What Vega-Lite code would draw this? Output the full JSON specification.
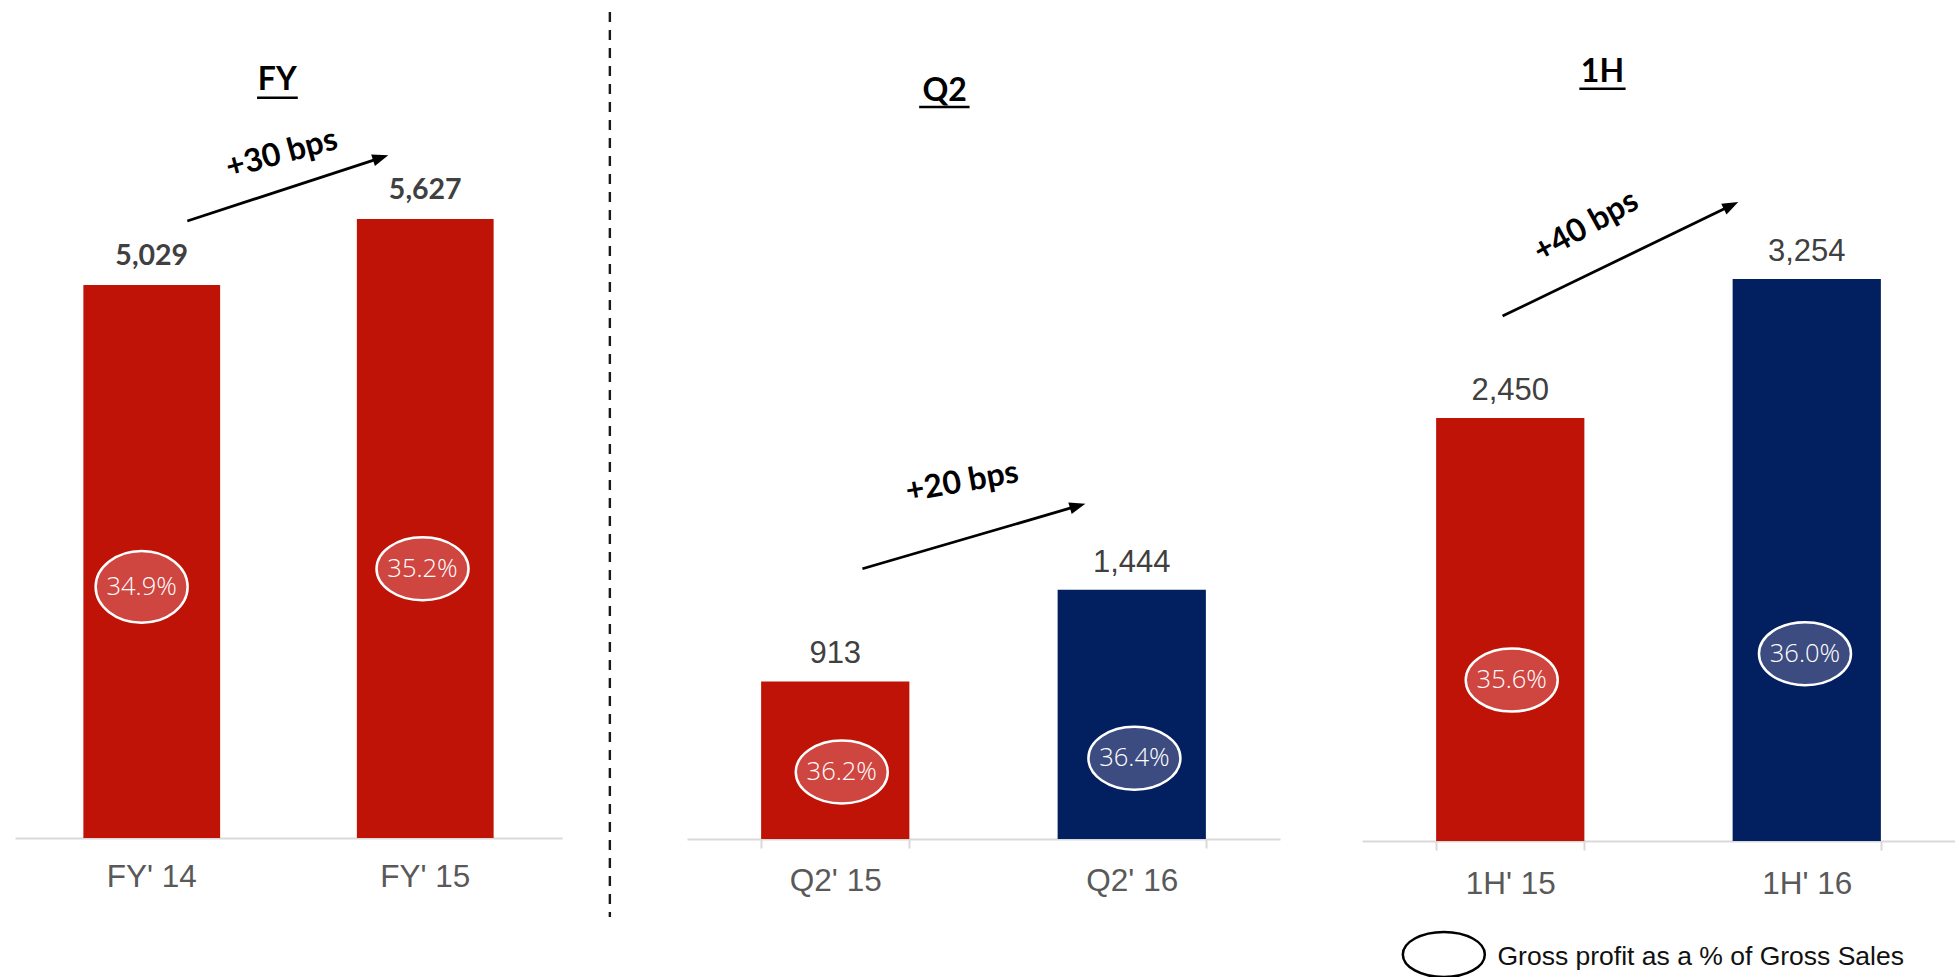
{
  "$schema": "https://vega.github.io/schema/vega-lite/v6.json",
  "background": "#FFFFFF",
  "padding": {"left": 15, "top": 10, "right": 0, "bottom": 0},
  "bounds": "flush",
  "spacing": 125,
  "config": {"view": {"stroke": null}, "font": "Liberation Sans"},
  "resolve": {"scale": {"x": "independent", "y": "independent"}},
  "datasets": {
    "fy": [
      {"period": "FY' 14", "gp": 5029, "margin": "34.9%", "fiscal": "2014", "labelX": 0.463, "labelY": 2284},
      {"period": "FY' 15", "gp": 5627, "margin": "35.2%", "fiscal": "2015", "labelX": 1.49, "labelY": 2448}
    ],
    "q2": [
      {"period": "Q2' 15", "gp": 913, "margin": "36.2%", "fiscal": "2015", "labelX": 0.522, "labelY": 388},
      {"period": "Q2' 16", "gp": 1444, "margin": "36.4%", "fiscal": "2016", "labelX": 1.509, "labelY": 468}
    ],
    "h1": [
      {"period": "1H' 15", "gp": 2450, "margin": "35.6%", "fiscal": "2015", "labelX": 0.505, "labelY": 932},
      {"period": "1H' 16", "gp": 3254, "margin": "36.0%", "fiscal": "2016", "labelX": 1.494, "labelY": 1085}
    ],
    "notes": [
      {"panel": "FY", "kind": "title", "label": "FY", "x": 0.959, "y": 6798},
      {"panel": "FY", "kind": "underline", "x": 0.885, "x2": 1.034, "y": 6731},
      {"panel": "FY", "kind": "arrow", "x": 0.63, "y": 5610, "x2": 1.337, "y2": 6184},
      {"panel": "FY", "kind": "change", "label": "+30 bps", "x": 0.975, "y": 6223},
      {"panel": "FY", "kind": "divider", "x": 2.175, "y": 7510, "y2": -718},
      {"panel": "Q2", "kind": "title", "label": "Q2", "x": 0.869, "y": 4275},
      {"panel": "Q2", "kind": "underline", "x": 0.783, "x2": 0.953, "y": 4242},
      {"panel": "Q2", "kind": "arrow", "x": 0.5916, "y": 1566, "x2": 1.3177, "y2": 1930},
      {"panel": "Q2", "kind": "change", "label": "+20 bps", "x": 0.928, "y": 2069},
      {"panel": "1H", "kind": "title", "label": "1H", "x": 0.811, "y": 4395},
      {"panel": "1H", "kind": "underline", "x": 0.733, "x2": 0.889, "y": 4357},
      {"panel": "1H", "kind": "arrow", "x": 0.474, "y": 3040, "x2": 1.2448, "y2": 3680},
      {"panel": "1H", "kind": "change", "label": "+40 bps", "x": 0.755, "y": 3561},
      {"panel": "1H", "kind": "legendmark", "x": 0.276, "y": -657},
      {"panel": "1H", "kind": "legendtext", "label": "Gross profit as a % of Gross Sales", "x": 0.457, "y": -720}
    ]
  },
  "hconcat": [
    {
      "width": 547,
      "height": 826,
      "resolve": {"scale": {"x": "independent"}},
      "layer": [
        {
          "data": {"name": "fy"},
          "layer": [
            {
              "mark": {"type": "bar"},
              "encoding": {
                "x": {"field": "period", "type": "nominal", "sort": null, "scale": {"paddingInner": 0.5, "paddingOuter": 0.25},
                  "axis": {"title": null, "labelAngle": 0, "labelFont": "Liberation Sans", "labelFontSize": 31.5, "labelColor": "#595959", "labelPadding": 23, "ticks": false, "domainColor": "#D9D9D9", "domainWidth": 2}},
                "y": {"field": "gp", "type": "quantitative", "scale": {"domain": [0, 7510], "nice": false}, "axis": null},
                "color": {"field": "fiscal", "type": "nominal", "scale": {"domain": ["2014", "2015", "2016"], "range": ["#BE1306", "#BE1306", "#022060"]}, "legend": null}
              }
            },
            {
              "mark": {"type": "text", "baseline": "alphabetic", "align": "center", "dy": -20, "font": "Lato", "fontWeight": "bold", "fontSize": 28.5, "color": "#404040"},
              "encoding": {
                "x": {"field": "period", "type": "nominal", "sort": null},
                "y": {"field": "gp", "type": "quantitative"},
                "text": {"field": "gp", "type": "quantitative", "format": ","}
              }
            }
          ]
        },
        {
          "layer": [
            {
              "data": {"name": "fy"},
              "mark": {"type": "point", "filled": true, "opacity": 1, "stroke": "#FFFFFF", "strokeWidth": 2.5, "size": 8464},
              "encoding": {
                "x": {"field": "labelX", "type": "quantitative", "scale": {"domain": [0, 2], "nice": false, "zero": false}, "axis": null},
                "y": {"field": "labelY", "type": "quantitative", "scale": {"domain": [0, 7510], "nice": false}, "axis": null},
                "fill": {"field": "fiscal", "type": "nominal", "scale": {"domain": ["2014", "2015", "2016"], "range": ["#CF4540", "#CF4540", "#3D4C80"]}, "legend": null},
                "shape": {"condition": {"test": "datum.period === \"FY' 14\"", "value": "M-1,0C-1,-0.431,-0.552,-0.78,0,-0.78C0.552,-0.78,1,-0.431,1,0C1,0.431,0.552,0.78,0,0.78C-0.552,0.78,-1,0.431,-1,0Z"}, "value": "M-1,0C-1,-0.378,-0.552,-0.685,0,-0.685C0.552,-0.685,1,-0.378,1,0C1,0.378,0.552,0.685,0,0.685C-0.552,0.685,-1,0.378,-1,0Z"}
              }
            },
            {
              "data": {"name": "fy"},
              "mark": {"type": "text", "font": "Open Sans", "fontWeight": 300, "fontSize": 25.5, "color": "#FFFFFF", "baseline": "middle", "align": "center"},
              "encoding": {
                "x": {"field": "labelX", "type": "quantitative"},
                "y": {"field": "labelY", "type": "quantitative"},
                "text": {"field": "margin"}
              }
            },
            {
              "data": {"name": "notes"},
              "transform": [{"filter": "datum.panel === 'FY' && datum.kind === 'title'"}],
              "mark": {"type": "text", "font": "Lato", "fontWeight": "bold", "fontSize": 32, "color": "#000000", "baseline": "alphabetic", "align": "center"},
              "encoding": {"x": {"field": "x", "type": "quantitative"}, "y": {"field": "y", "type": "quantitative"}, "text": {"field": "label"}}
            },
            {
              "data": {"name": "notes"},
              "transform": [{"filter": "datum.panel === 'FY' && datum.kind === 'underline'"}],
              "mark": {"type": "rule", "color": "#000000", "strokeWidth": 2.5},
              "encoding": {"x": {"field": "x", "type": "quantitative"}, "x2": {"field": "x2"}, "y": {"field": "y", "type": "quantitative"}}
            },
            {
              "data": {"name": "notes"},
              "transform": [{"filter": "datum.panel === 'FY' && datum.kind === 'arrow'"}],
              "mark": {"type": "rule", "color": "#000000", "strokeWidth": 2.8},
              "encoding": {"x": {"field": "x", "type": "quantitative"}, "x2": {"field": "x2"}, "y": {"field": "y", "type": "quantitative"}, "y2": {"field": "y2"}}
            },
            {
              "data": {"name": "notes"},
              "transform": [{"filter": "datum.panel === 'FY' && datum.kind === 'arrow'"}],
              "mark": {"type": "point", "filled": true, "opacity": 1, "color": "#000000", "size": 256, "angle": 342, "shape": "M1,0L-1,-0.75L-1,0.75Z"},
              "encoding": {"x": {"field": "x2", "type": "quantitative"}, "y": {"field": "y2", "type": "quantitative"}}
            },
            {
              "data": {"name": "notes"},
              "transform": [{"filter": "datum.panel === 'FY' && datum.kind === 'change'"}],
              "mark": {"type": "text", "font": "Lato", "fontWeight": "bold", "fontSize": 32, "color": "#000000", "baseline": "middle", "align": "center", "angle": 345},
              "encoding": {"x": {"field": "x", "type": "quantitative"}, "y": {"field": "y", "type": "quantitative"}, "text": {"field": "label"}}
            },
            {
              "data": {"name": "notes"},
              "transform": [{"filter": "datum.panel === 'FY' && datum.kind === 'divider'"}],
              "mark": {"type": "rule", "color": "#1A1A1A", "strokeWidth": 2.4, "strokeDash": [10, 8]},
              "encoding": {"x": {"field": "x", "type": "quantitative"}, "y": {"field": "y", "type": "quantitative"}, "y2": {"field": "y2"}}
            }
          ]
        }
      ]
    },
    {
      "bounds": "flush",
      "spacing": 82,
      "resolve": {"scale": {"x": "independent", "y": "independent"}},
      "hconcat": [
        {
          "width": 593,
          "height": 827,
          "resolve": {"scale": {"x": "independent"}},
          "layer": [
            {
              "data": {"name": "q2"},
              "layer": [
                {
                  "mark": {"type": "bar"},
                  "encoding": {
                    "x": {"field": "period", "type": "nominal", "sort": null, "scale": {"paddingInner": 0.5, "paddingOuter": 0.25},
                      "axis": {"title": null, "labelAngle": 0, "labelFont": "Liberation Sans", "labelFontSize": 31.5, "labelColor": "#595959", "labelPadding": 17, "ticks": true, "tickSize": 9, "tickColor": "#D9D9D9", "tickWidth": 2, "tickBand": "extent", "domainColor": "#D9D9D9", "domainWidth": 2}},
                    "y": {"field": "gp", "type": "quantitative", "scale": {"domain": [0, 4792], "nice": false}, "axis": null},
                    "color": {"field": "fiscal", "type": "nominal", "scale": {"domain": ["2014", "2015", "2016"], "range": ["#BE1306", "#BE1306", "#022060"]}, "legend": null}
                  }
                },
                {
                  "mark": {"type": "text", "baseline": "alphabetic", "align": "center", "dy": -18, "font": "Liberation Sans", "fontSize": 31, "color": "#404040"},
                  "encoding": {
                    "x": {"field": "period", "type": "nominal", "sort": null},
                    "y": {"field": "gp", "type": "quantitative"},
                    "text": {"field": "gp", "type": "quantitative", "format": ","}
                  }
                }
              ]
            },
            {
              "layer": [
                {
                  "data": {"name": "q2"},
                  "mark": {"type": "point", "filled": true, "opacity": 1, "stroke": "#FFFFFF", "strokeWidth": 2.5, "size": 8464, "shape": "M-1,0C-1,-0.378,-0.552,-0.685,0,-0.685C0.552,-0.685,1,-0.378,1,0C1,0.378,0.552,0.685,0,0.685C-0.552,0.685,-1,0.378,-1,0Z"},
                  "encoding": {
                    "x": {"field": "labelX", "type": "quantitative", "scale": {"domain": [0, 2], "nice": false, "zero": false}, "axis": null},
                    "y": {"field": "labelY", "type": "quantitative", "scale": {"domain": [0, 4792], "nice": false}, "axis": null},
                    "fill": {"field": "fiscal", "type": "nominal", "scale": {"domain": ["2014", "2015", "2016"], "range": ["#CF4540", "#CF4540", "#3D4C80"]}, "legend": null}
                  }
                },
                {
                  "data": {"name": "q2"},
                  "mark": {"type": "text", "font": "Open Sans", "fontWeight": 300, "fontSize": 25.5, "color": "#FFFFFF", "baseline": "middle", "align": "center"},
                  "encoding": {"x": {"field": "labelX", "type": "quantitative"}, "y": {"field": "labelY", "type": "quantitative"}, "text": {"field": "margin"}}
                },
                {
                  "data": {"name": "notes"},
                  "transform": [{"filter": "datum.panel === 'Q2' && datum.kind === 'title'"}],
                  "mark": {"type": "text", "font": "Lato", "fontWeight": "bold", "fontSize": 32, "color": "#000000", "baseline": "alphabetic", "align": "center"},
                  "encoding": {"x": {"field": "x", "type": "quantitative"}, "y": {"field": "y", "type": "quantitative"}, "text": {"field": "label"}}
                },
                {
                  "data": {"name": "notes"},
                  "transform": [{"filter": "datum.panel === 'Q2' && datum.kind === 'underline'"}],
                  "mark": {"type": "rule", "color": "#000000", "strokeWidth": 2.5},
                  "encoding": {"x": {"field": "x", "type": "quantitative"}, "x2": {"field": "x2"}, "y": {"field": "y", "type": "quantitative"}}
                },
                {
                  "data": {"name": "notes"},
                  "transform": [{"filter": "datum.panel === 'Q2' && datum.kind === 'arrow'"}],
                  "mark": {"type": "rule", "color": "#000000", "strokeWidth": 2.8},
                  "encoding": {"x": {"field": "x", "type": "quantitative"}, "x2": {"field": "x2"}, "y": {"field": "y", "type": "quantitative"}, "y2": {"field": "y2"}}
                },
                {
                  "data": {"name": "notes"},
                  "transform": [{"filter": "datum.panel === 'Q2' && datum.kind === 'arrow'"}],
                  "mark": {"type": "point", "filled": true, "opacity": 1, "color": "#000000", "size": 256, "angle": 343.75, "shape": "M1,0L-1,-0.75L-1,0.75Z"},
                  "encoding": {"x": {"field": "x2", "type": "quantitative"}, "y": {"field": "y2", "type": "quantitative"}}
                },
                {
                  "data": {"name": "notes"},
                  "transform": [{"filter": "datum.panel === 'Q2' && datum.kind === 'change'"}],
                  "mark": {"type": "text", "font": "Lato", "fontWeight": "bold", "fontSize": 32, "color": "#000000", "baseline": "middle", "align": "center", "angle": 350},
                  "encoding": {"x": {"field": "x", "type": "quantitative"}, "y": {"field": "y", "type": "quantitative"}, "text": {"field": "label"}}
                }
              ]
            }
          ]
        },
        {
          "width": 593,
          "height": 829,
          "resolve": {"scale": {"x": "independent"}},
          "layer": [
            {
              "data": {"name": "h1"},
              "layer": [
                {
                  "mark": {"type": "bar"},
                  "encoding": {
                    "x": {"field": "period", "type": "nominal", "sort": null, "scale": {"paddingInner": 0.5, "paddingOuter": 0.25},
                      "axis": {"title": null, "labelAngle": 0, "labelFont": "Liberation Sans", "labelFontSize": 31.5, "labelColor": "#595959", "labelPadding": 18, "ticks": true, "tickSize": 9, "tickColor": "#D9D9D9", "tickWidth": 2, "tickBand": "extent", "domainColor": "#D9D9D9", "domainWidth": 2}},
                    "y": {"field": "gp", "type": "quantitative", "scale": {"domain": [0, 4801], "nice": false}, "axis": null},
                    "color": {"field": "fiscal", "type": "nominal", "scale": {"domain": ["2014", "2015", "2016"], "range": ["#BE1306", "#BE1306", "#022060"]}, "legend": null}
                  }
                },
                {
                  "mark": {"type": "text", "baseline": "alphabetic", "align": "center", "dy": -18, "font": "Liberation Sans", "fontSize": 31, "color": "#404040"},
                  "encoding": {
                    "x": {"field": "period", "type": "nominal", "sort": null},
                    "y": {"field": "gp", "type": "quantitative"},
                    "text": {"field": "gp", "type": "quantitative", "format": ","}
                  }
                }
              ]
            },
            {
              "layer": [
                {
                  "data": {"name": "h1"},
                  "mark": {"type": "point", "filled": true, "opacity": 1, "stroke": "#FFFFFF", "strokeWidth": 2.5, "size": 8464, "shape": "M-1,0C-1,-0.378,-0.552,-0.685,0,-0.685C0.552,-0.685,1,-0.378,1,0C1,0.378,0.552,0.685,0,0.685C-0.552,0.685,-1,0.378,-1,0Z"},
                  "encoding": {
                    "x": {"field": "labelX", "type": "quantitative", "scale": {"domain": [0, 2], "nice": false, "zero": false}, "axis": null},
                    "y": {"field": "labelY", "type": "quantitative", "scale": {"domain": [0, 4801], "nice": false}, "axis": null},
                    "fill": {"field": "fiscal", "type": "nominal", "scale": {"domain": ["2014", "2015", "2016"], "range": ["#CF4540", "#CF4540", "#3D4C80"]}, "legend": null}
                  }
                },
                {
                  "data": {"name": "h1"},
                  "mark": {"type": "text", "font": "Open Sans", "fontWeight": 300, "fontSize": 25.5, "color": "#FFFFFF", "baseline": "middle", "align": "center"},
                  "encoding": {"x": {"field": "labelX", "type": "quantitative"}, "y": {"field": "labelY", "type": "quantitative"}, "text": {"field": "margin"}}
                },
                {
                  "data": {"name": "notes"},
                  "transform": [{"filter": "datum.panel === '1H' && datum.kind === 'title'"}],
                  "mark": {"type": "text", "font": "Lato", "fontWeight": "bold", "fontSize": 32, "color": "#000000", "baseline": "alphabetic", "align": "center"},
                  "encoding": {"x": {"field": "x", "type": "quantitative"}, "y": {"field": "y", "type": "quantitative"}, "text": {"field": "label"}}
                },
                {
                  "data": {"name": "notes"},
                  "transform": [{"filter": "datum.panel === '1H' && datum.kind === 'underline'"}],
                  "mark": {"type": "rule", "color": "#000000", "strokeWidth": 2.5},
                  "encoding": {"x": {"field": "x", "type": "quantitative"}, "x2": {"field": "x2"}, "y": {"field": "y", "type": "quantitative"}}
                },
                {
                  "data": {"name": "notes"},
                  "transform": [{"filter": "datum.panel === '1H' && datum.kind === 'arrow'"}],
                  "mark": {"type": "rule", "color": "#000000", "strokeWidth": 2.8},
                  "encoding": {"x": {"field": "x", "type": "quantitative"}, "x2": {"field": "x2"}, "y": {"field": "y", "type": "quantitative"}, "y2": {"field": "y2"}}
                },
                {
                  "data": {"name": "notes"},
                  "transform": [{"filter": "datum.panel === '1H' && datum.kind === 'arrow'"}],
                  "mark": {"type": "point", "filled": true, "opacity": 1, "color": "#000000", "size": 256, "angle": 334.2, "shape": "M1,0L-1,-0.75L-1,0.75Z"},
                  "encoding": {"x": {"field": "x2", "type": "quantitative"}, "y": {"field": "y2", "type": "quantitative"}}
                },
                {
                  "data": {"name": "notes"},
                  "transform": [{"filter": "datum.panel === '1H' && datum.kind === 'change'"}],
                  "mark": {"type": "text", "font": "Lato", "fontWeight": "bold", "fontSize": 32, "color": "#000000", "baseline": "middle", "align": "center", "angle": 331},
                  "encoding": {"x": {"field": "x", "type": "quantitative"}, "y": {"field": "y", "type": "quantitative"}, "text": {"field": "label"}}
                },
                {
                  "data": {"name": "notes"},
                  "transform": [{"filter": "datum.panel === '1H' && datum.kind === 'legendmark'"}],
                  "mark": {"type": "point", "filled": false, "opacity": 1, "stroke": "#000000", "strokeWidth": 2.5, "size": 6724, "shape": "M-1,0C-1,-0.304,-0.552,-0.55,0,-0.55C0.552,-0.55,1,-0.304,1,0C1,0.304,0.552,0.55,0,0.55C-0.552,0.55,-1,0.304,-1,0Z"},
                  "encoding": {"x": {"field": "x", "type": "quantitative"}, "y": {"field": "y", "type": "quantitative"}}
                },
                {
                  "data": {"name": "notes"},
                  "transform": [{"filter": "datum.panel === '1H' && datum.kind === 'legendtext'"}],
                  "mark": {"type": "text", "font": "Liberation Sans", "fontSize": 26.5, "color": "#111111", "baseline": "alphabetic", "align": "left"},
                  "encoding": {"x": {"field": "x", "type": "quantitative"}, "y": {"field": "y", "type": "quantitative"}, "text": {"field": "label"}}
                }
              ]
            }
          ]
        }
      ]
    }
  ]
}
